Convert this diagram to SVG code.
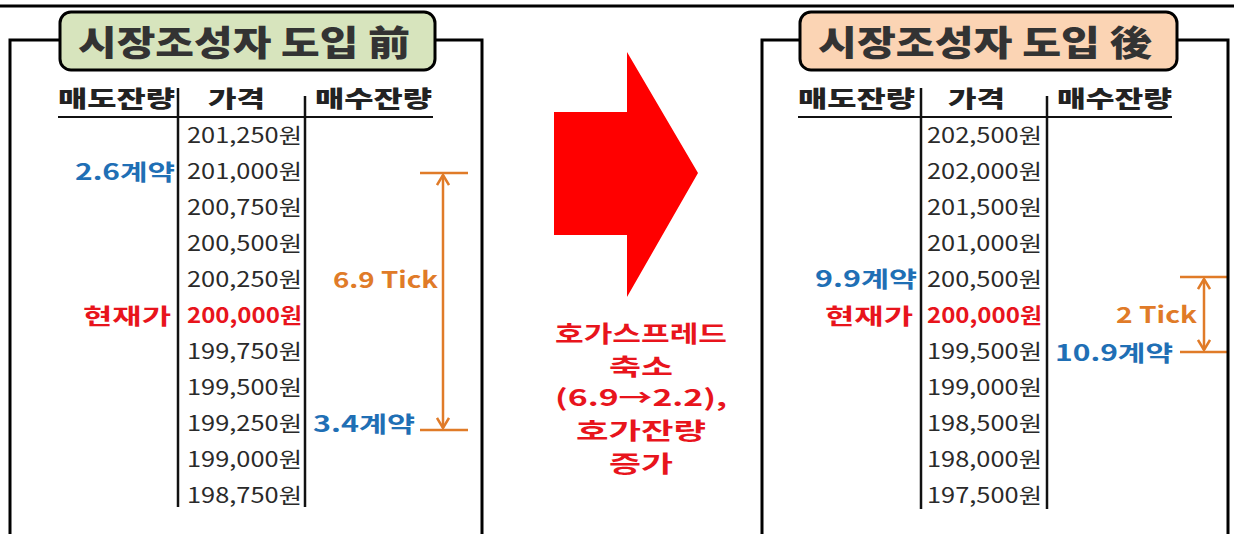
<svg xmlns="http://www.w3.org/2000/svg" width="1234" height="534" viewBox="0 0 1234 534">
<style>
.frame{fill:none;stroke:#000;stroke-width:3}
.col{stroke:#111;stroke-width:2.5}
.title{font-family:"Noto Sans CJK KR","Noto Sans",sans-serif;font-weight:900;font-size:35px;fill:#333}
.hdr{font-family:"Noto Sans CJK KR","Noto Sans",sans-serif;font-weight:900;font-size:23px;fill:#222}
.price{font-family:"Noto Sans CJK KR","Noto Sans",sans-serif;font-size:21px;fill:#2a2a2a}
.cur{font-family:"Noto Sans CJK KR","Noto Sans",sans-serif;font-weight:700;font-size:21px;fill:#e8141c}
.blue{font-family:"Noto Sans CJK KR","Noto Sans",sans-serif;font-weight:700;font-size:22px;fill:#1f6fb5}
.tick{font-family:"Noto Sans CJK KR","Noto Sans",sans-serif;font-weight:700;font-size:22px;fill:#e07b28}
.red{font-family:"Noto Sans CJK KR","Noto Sans",sans-serif;font-weight:700;font-size:23px;fill:#e8141c;text-anchor:middle}
.brk{stroke:#e07b28;stroke-width:2.5;fill:none}
</style>
<defs>
<marker id="oarr" viewBox="0 0 12 14" refX="11" refY="7" markerWidth="12" markerHeight="14" markerUnits="userSpaceOnUse" orient="auto-start-reverse">
<path d="M1,1 L11,7 L1,13" fill="none" stroke="#e07b28" stroke-width="2.5"/>
</marker>
</defs>
<line x1="0" y1="6" x2="1234" y2="6" stroke="#000" stroke-width="3"/>

<g id="panel-before">
<path class="frame" d="M10,534 V40 H60 M435,40 H482 V534"/>
<g id="title-before">
<rect x="60" y="12" width="375" height="58" rx="11" fill="#d7e4bd" stroke="#000" stroke-width="3"/>
<text class="title" x="78" y="56" textLength="332" lengthAdjust="spacingAndGlyphs">시장조성자 도입 前</text>
</g>
<text class="hdr" x="58" y="107" textLength="117" lengthAdjust="spacingAndGlyphs">매도잔량</text>
<text class="hdr" x="208" y="107" textLength="57" lengthAdjust="spacingAndGlyphs">가격</text>
<text class="hdr" x="315" y="107" textLength="117" lengthAdjust="spacingAndGlyphs">매수잔량</text>
<line x1="58" y1="117" x2="433" y2="117" stroke="#111" stroke-width="2"/>
<line class="col" x1="178" y1="88" x2="178" y2="507"/>
<line class="col" x1="305" y1="96" x2="305" y2="507"/>
<g id="prices-before">
<text class="price" x="187" y="143" textLength="115" lengthAdjust="spacingAndGlyphs">201,250원</text>
<text class="price" x="187" y="179" textLength="115" lengthAdjust="spacingAndGlyphs">201,000원</text>
<text class="price" x="187" y="215" textLength="115" lengthAdjust="spacingAndGlyphs">200,750원</text>
<text class="price" x="187" y="251" textLength="115" lengthAdjust="spacingAndGlyphs">200,500원</text>
<text class="price" x="187" y="287" textLength="115" lengthAdjust="spacingAndGlyphs">200,250원</text>
<text class="cur" x="187" y="323" textLength="115" lengthAdjust="spacingAndGlyphs">200,000원</text>
<text class="price" x="187" y="359" textLength="115" lengthAdjust="spacingAndGlyphs">199,750원</text>
<text class="price" x="187" y="395" textLength="115" lengthAdjust="spacingAndGlyphs">199,500원</text>
<text class="price" x="187" y="431" textLength="115" lengthAdjust="spacingAndGlyphs">199,250원</text>
<text class="price" x="187" y="467" textLength="115" lengthAdjust="spacingAndGlyphs">199,000원</text>
<text class="price" x="187" y="503" textLength="115" lengthAdjust="spacingAndGlyphs">198,750원</text>
</g>
<text class="blue" x="75" y="180" textLength="100" lengthAdjust="spacingAndGlyphs">2.6계약</text>
<text class="cur" x="83" y="324" textLength="88" lengthAdjust="spacingAndGlyphs" style="font-size:22px">현재가</text>
<text class="tick" x="333" y="288" textLength="105" lengthAdjust="spacingAndGlyphs">6.9 Tick</text>
<text class="blue" x="313" y="432" textLength="102" lengthAdjust="spacingAndGlyphs">3.4계약</text>
</g>

<g id="connectors">
<line class="brk" x1="420" y1="173" x2="468" y2="173"/>
<line class="brk" x1="420" y1="430" x2="468" y2="430"/>
<line class="brk" x1="443" y1="175" x2="443" y2="428" marker-start="url(#oarr)" marker-end="url(#oarr)"/>
<line class="brk" x1="1180" y1="277" x2="1228" y2="277"/>
<line class="brk" x1="1180" y1="352" x2="1228" y2="352"/>
<line class="brk" x1="1204" y1="279" x2="1204" y2="350" marker-start="url(#oarr)" marker-end="url(#oarr)"/>
</g>

<g id="big-arrow">
<polygon points="554,112 627,112 627,52 698,173 627,297 627,235 554,235" fill="#ff0000"/>
<text class="red" x="641" y="342" textLength="172" lengthAdjust="spacingAndGlyphs">호가스프레드</text>
<text class="red" x="641" y="375" textLength="64" lengthAdjust="spacingAndGlyphs">축소</text>
<text class="red" x="641" y="406" textLength="172" lengthAdjust="spacingAndGlyphs">(6.9→2.2),</text>
<text class="red" x="641" y="439" textLength="130" lengthAdjust="spacingAndGlyphs">호가잔량</text>
<text class="red" x="641" y="472" textLength="64" lengthAdjust="spacingAndGlyphs">증가</text>
</g>

<g id="panel-after">
<path class="frame" d="M762,534 V40 H800 M1177,40 H1228 V534"/>
<g id="title-after">
<rect x="800" y="12" width="377" height="58" rx="11" fill="#fbd4b4" stroke="#000" stroke-width="3"/>
<text class="title" x="818" y="56" textLength="334" lengthAdjust="spacingAndGlyphs">시장조성자 도입 後</text>
</g>
<text class="hdr" x="798" y="107" textLength="117" lengthAdjust="spacingAndGlyphs">매도잔량</text>
<text class="hdr" x="948" y="107" textLength="57" lengthAdjust="spacingAndGlyphs">가격</text>
<text class="hdr" x="1057" y="107" textLength="115" lengthAdjust="spacingAndGlyphs">매수잔량</text>
<line x1="798" y1="117" x2="1172" y2="117" stroke="#111" stroke-width="2"/>
<line class="col" x1="921" y1="88" x2="921" y2="509"/>
<line class="col" x1="1047" y1="96" x2="1047" y2="509"/>
<g id="prices-after">
<text class="price" x="927" y="143" textLength="115" lengthAdjust="spacingAndGlyphs">202,500원</text>
<text class="price" x="927" y="179" textLength="115" lengthAdjust="spacingAndGlyphs">202,000원</text>
<text class="price" x="927" y="215" textLength="115" lengthAdjust="spacingAndGlyphs">201,500원</text>
<text class="price" x="927" y="251" textLength="115" lengthAdjust="spacingAndGlyphs">201,000원</text>
<text class="price" x="927" y="287" textLength="115" lengthAdjust="spacingAndGlyphs">200,500원</text>
<text class="cur" x="927" y="323" textLength="115" lengthAdjust="spacingAndGlyphs">200,000원</text>
<text class="price" x="927" y="359" textLength="115" lengthAdjust="spacingAndGlyphs">199,500원</text>
<text class="price" x="927" y="395" textLength="115" lengthAdjust="spacingAndGlyphs">199,000원</text>
<text class="price" x="927" y="431" textLength="115" lengthAdjust="spacingAndGlyphs">198,500원</text>
<text class="price" x="927" y="467" textLength="115" lengthAdjust="spacingAndGlyphs">198,000원</text>
<text class="price" x="927" y="503" textLength="115" lengthAdjust="spacingAndGlyphs">197,500원</text>
</g>
<text class="blue" x="815" y="287" textLength="102" lengthAdjust="spacingAndGlyphs">9.9계약</text>
<text class="cur" x="825" y="324" textLength="88" lengthAdjust="spacingAndGlyphs" style="font-size:22px">현재가</text>
<text class="tick" x="1116" y="323" textLength="81" lengthAdjust="spacingAndGlyphs">2 Tick</text>
<text class="blue" x="1055" y="361" textLength="118" lengthAdjust="spacingAndGlyphs">10.9계약</text>
</g>
</svg>
